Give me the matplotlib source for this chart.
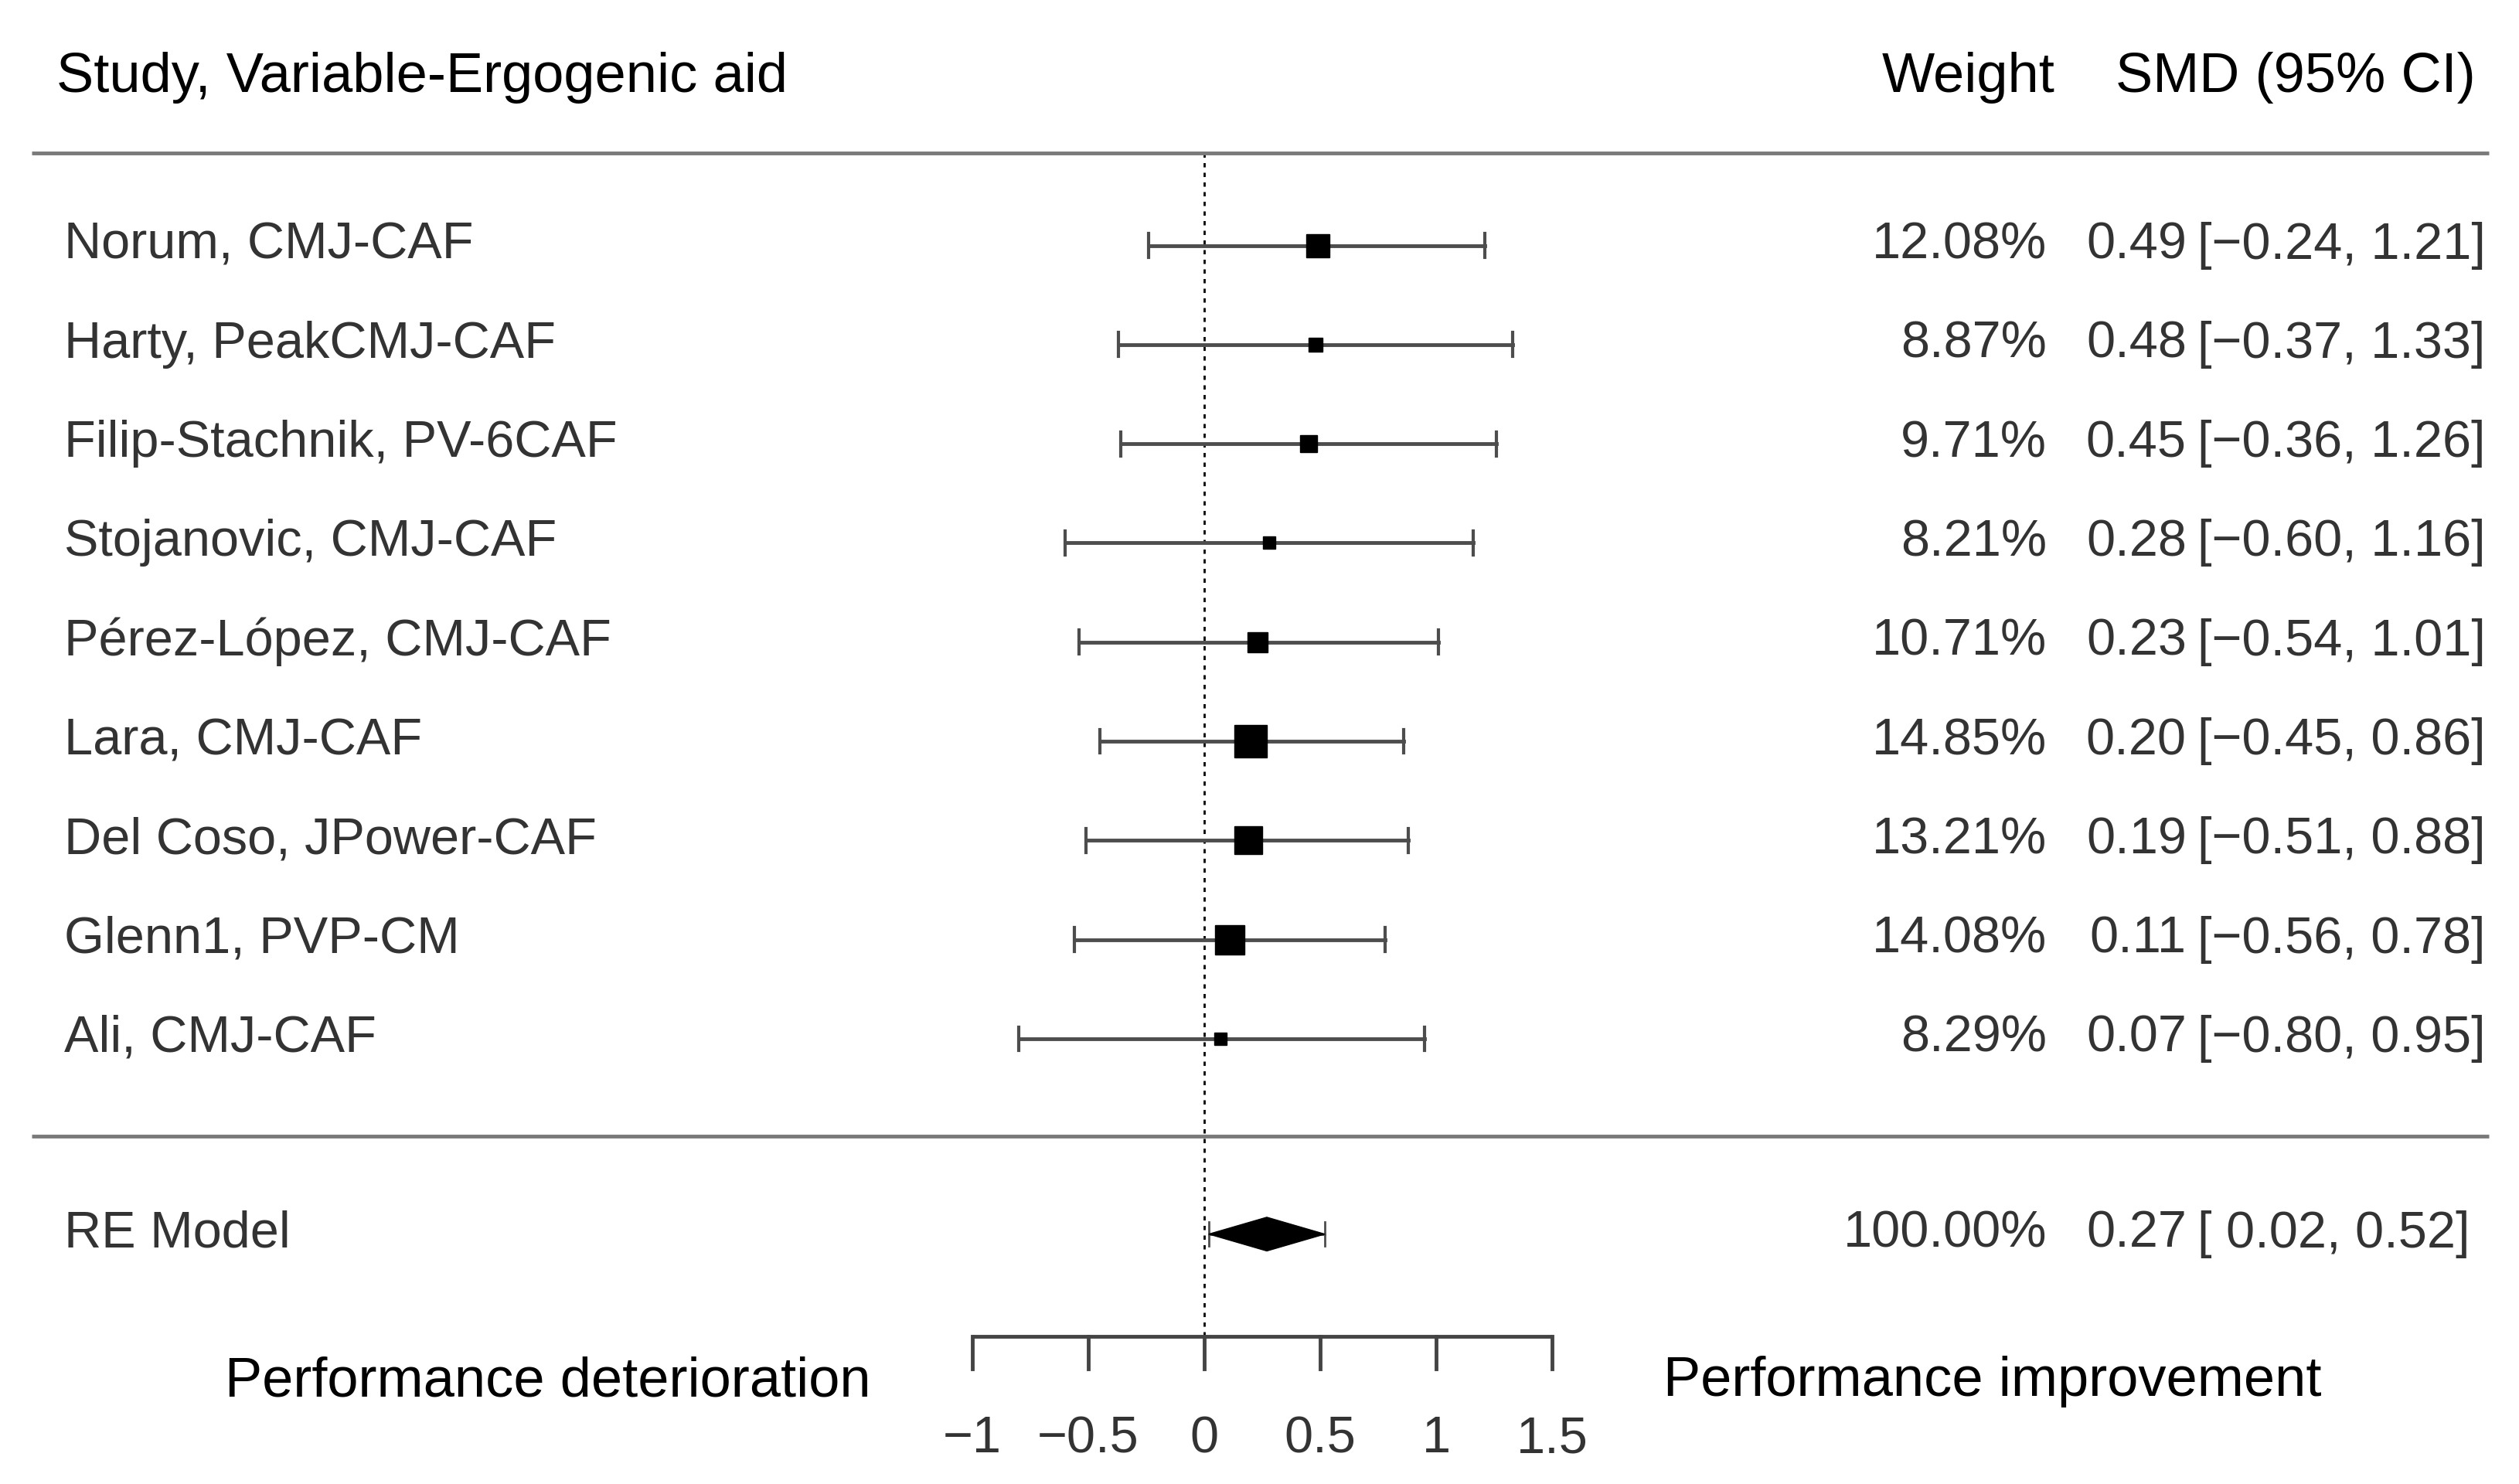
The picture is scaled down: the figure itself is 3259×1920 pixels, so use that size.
import numpy as np
import matplotlib.pyplot as plt
from matplotlib.patches import Polygon

plt.rcParams['font.family'] = ['Liberation Sans', 'DejaVu Sans']

studies = ["Norum, CMJ-CAF", "Harty, PeakCMJ-CAF", "Filip-Stachnik, PV-6CAF",
           "Stojanovic, CMJ-CAF", "Pérez-López, CMJ-CAF", "Lara, CMJ-CAF",
           "Del Coso, JPower-CAF", "Glenn1, PVP-CM", "Ali, CMJ-CAF"]
smd = [0.49, 0.48, 0.45, 0.28, 0.23, 0.20, 0.19, 0.11, 0.07]
ci_low = [-0.24, -0.37, -0.36, -0.60, -0.54, -0.45, -0.51, -0.56, -0.80]
ci_high = [1.21, 1.33, 1.26, 1.16, 1.01, 0.86, 0.88, 0.78, 0.95]
weights = [12.08, 8.87, 9.71, 8.21, 10.71, 14.85, 13.21, 14.08, 8.29]

re_est, re_low, re_high = 0.27, 0.02, 0.52
xticks = [-1, -0.5, 0, 0.5, 1, 1.5]


def fmt(v):
    return f"{v:.2f}".replace("-", "\u2212")


fig = plt.figure(figsize=(32.59, 19.20), dpi=100)
ax = fig.add_axes([0, 0, 1, 1])
ax.set_xlim(-5.193, 5.67)
ax.set_ylim(12.49, -2.475)
ax.axis('off')

fs = 48
fs_head = 52
txt = '#333333'
line_c = '#4d4d4d'

# header
ax.text(-4.95, -1.69, "Study, Variable-Ergogenic aid", fontsize=fs_head, va='center', ha='left', color='black')
ax.text(3.667, -1.69, "Weight", fontsize=fs_head, va='center', ha='right', color='black')
ax.text(5.482, -1.69, "SMD (95% CI)", fontsize=fs_head, va='center', ha='right', color='black')

ax.plot([-5.055, 5.54], [-0.93, -0.93], color='#7a7a7a', lw=3.5, solid_capstyle='butt')
ax.plot([-5.055, 5.54], [8.985, 8.985], color='#7a7a7a', lw=3.5, solid_capstyle='butt')

# reference line at zero
ax.plot([0, 0], [-0.93, 11.0], color='black', lw=2, linestyle=(0, (2, 2.5)), zorder=1)

# square sizes from weights (metafor style linear scaling)
wmin, wmax = min(weights), max(weights)
for i, name in enumerate(studies):
    y = i
    ax.plot([ci_low[i], ci_high[i]], [y, y], color=line_c, lw=3.5, zorder=2)
    for xc in (ci_low[i], ci_high[i]):
        ax.plot([xc, xc], [y - 0.12, y + 0.12], color=line_c, lw=3, zorder=2)
    psz = 11 + 19 * (weights[i] - wmin) / (wmax - wmin)
    ax.plot(smd[i], y, marker='s', ms=psz, color='black', mec='black', zorder=3)
    ax.text(-4.917, y, name, fontsize=fs, va='center', ha='left', color=txt)
    ax.text(3.633, y, f"{weights[i]:.2f}%", fontsize=fs, va='center', ha='right', color=txt)
    ax.text(4.236, y, fmt(smd[i]), fontsize=fs, va='center', ha='right', color=txt)
    ax.text(4.284, y, f"[{fmt(ci_low[i])}, {fmt(ci_high[i])}]", fontsize=fs, va='center', ha='left', color=txt)

# pooled estimate
yr = 9.97
ax.plot([re_low, re_high], [yr, yr], color=line_c, lw=2, zorder=2)
for xc in (re_low, re_high):
    ax.plot([xc, xc], [yr - 0.12, yr + 0.12], color=line_c, lw=2, zorder=2)
diamond = Polygon([[re_low, yr], [re_est, yr - 0.17], [re_high, yr], [re_est, yr + 0.17]],
                  closed=True, facecolor='black', edgecolor='black', zorder=3)
ax.add_patch(diamond)
ax.text(-4.917, yr, "RE Model", fontsize=fs, va='center', ha='left', color=txt)
ax.text(3.633, yr, "100.00%", fontsize=fs, va='center', ha='right', color=txt)
ax.text(4.236, yr, fmt(re_est), fontsize=fs, va='center', ha='right', color=txt)
ax.text(4.284, yr, f"[ {fmt(re_low)}, {fmt(re_high)}]", fontsize=fs, va='center', ha='left', color=txt)

# x axis
ya = 11.0
ax.plot([xticks[0], xticks[-1]], [ya, ya], color='#444444', lw=3.5, solid_capstyle='butt')
for t in xticks:
    ax.plot([t, t], [ya, ya + 0.33], color='#444444', lw=3.5)
    lab = f"{t:g}".replace("-", "\u2212")
    ax.text(t, 12.04, lab, fontsize=fs, va='center', ha='center', color=txt)

ax.text(-2.83, 11.46, "Performance deterioration", fontsize=fs_head, va='center', ha='center', color='black')
ax.text(3.40, 11.46, "Performance improvement", fontsize=fs_head, va='center', ha='center', color='black')

fig.savefig("out.png", dpi=100, facecolor='white')
